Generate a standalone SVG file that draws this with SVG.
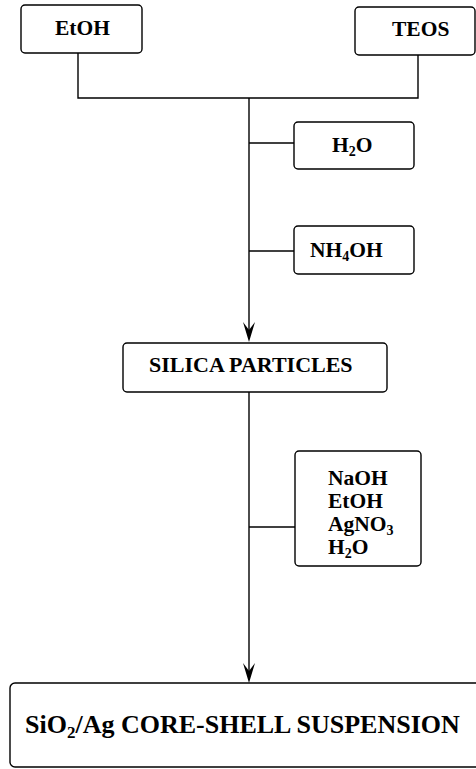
<svg xmlns="http://www.w3.org/2000/svg" width="476" height="769" viewBox="0 0 476 769">
<defs>
<style>
.box{fill:#fff;stroke:#000;stroke-width:1.4}
.ln{fill:none;stroke:#000;stroke-width:1.4}
.arr{fill:#000}
text{font-family:"Liberation Serif","Times New Roman",serif;font-weight:bold;font-size:21.5px;fill:#000}
.sub{font-size:14px}
.big{font-size:26px}
.bigsub{font-size:17px}
.mid{font-size:22px}
</style>
</defs>
<rect width="476" height="769" fill="#fff"/>
<g id="connectors">
<path class="ln" d="M78,53 V98 H418 V55"/>
<path class="ln" d="M249,98 V330"/>
<path class="ln" d="M249,143 H294"/>
<path class="ln" d="M249,251 H294"/>
<path class="ln" d="M249,392 V671"/>
<path class="ln" d="M249,527 H295"/>
<path class="arr" d="M243,322 L249,330 L255,322 L249,342 Z"/>
<path class="arr" d="M243,663 L249,671 L255,663 L249,683 Z"/>
</g>
<g id="etoh">
<rect class="box" x="21" y="5" width="121" height="48" rx="4"/>
<text x="55" y="35">EtOH</text>
</g>
<g id="teos">
<rect class="box" x="355" y="7" width="120" height="48" rx="4"/>
<text x="392" y="36">TEOS</text>
</g>
<g id="h2o">
<rect class="box" x="294" y="122" width="120" height="47" rx="4"/>
<text x="332" y="152">H<tspan class="sub" dy="4">2</tspan><tspan dy="-4">O</tspan></text>
</g>
<g id="nh4oh">
<rect class="box" x="294" y="226" width="120" height="48" rx="4"/>
<text x="310" y="257">NH<tspan class="sub" dy="4">4</tspan><tspan dy="-4">OH</tspan></text>
</g>
<g id="silica">
<rect class="box" x="123" y="343" width="264" height="49" rx="4"/>
<text class="mid" x="149" y="372">SILICA PARTICLES</text>
</g>
<g id="reagents">
<rect class="box" x="295" y="451" width="126" height="115" rx="4"/>
<text x="328" y="485">NaOH</text>
<text x="328" y="508">EtOH</text>
<text x="328" y="531">AgNO<tspan class="sub" dy="4">3</tspan></text>
<text x="328" y="554">H<tspan class="sub" dy="4">2</tspan><tspan dy="-4">O</tspan></text>
</g>
<g id="suspension">
<rect class="box" x="10" y="683" width="480" height="84" rx="5"/>
<text class="big" x="25" y="733">SiO<tspan class="bigsub" dy="5">2</tspan><tspan dy="-5">/Ag CORE-SHELL SUSPENSION</tspan></text>
</g>
</svg>
